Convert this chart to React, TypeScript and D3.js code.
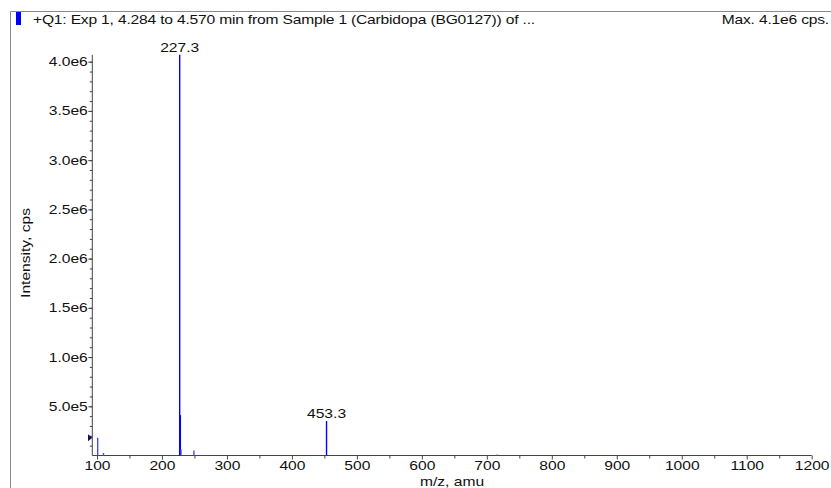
import { useEffect, useRef } from 'react';
import * as d3 from 'd3';

interface Peak {
  mz: number
  intensity: number
}

const peakMz = [101.1, 110.0, 136.0, 227.3, 228.3, 229.3, 249.2, 453.3, 716.0];
const peakIntensity = [1.8e5, 2.5e4, 5e3, 4.07e6, 4.1e5, 6e4, 5e4, 3.5e5, 1e4];
const labelledPeaks = ['227.3', '453.3'];

const xTicks = [100, 200, 300, 400, 500, 600, 700, 800, 900, 1000, 1100, 1200];
const yTicks = [5e5, 1e6, 1.5e6, 2e6, 2.5e6, 3e6, 3.5e6, 4e6];
const yTickLabels = ['5.0e5', '1.0e6', '1.5e6', '2.0e6', '2.5e6', '3.0e6', '3.5e6', '4.0e6'];

const title = '+Q1: Exp 1, 4.284 to 4.570 min from Sample 1 (Carbidopa (BG0127)) of ...';
const maxLabel = 'Max. 4.1e6 cps.';
const thresholdMarker = 1.8e5;

const SpectrumChart = (): JSX.Element => {
  const svgRef = useRef<SVGSVGElement>(null);

  useEffect(() => {
    const width = 831;
    const height = 488;
    const font = '"Liberation Sans", Arial, sans-serif';
    const fontSize = 12.5;
    // the software's font is drawn wide, so stretch text horizontally
    const stretch = 1.25;

    const data: Peak[] = peakMz.map((mz, i) => ({ mz, intensity: peakIntensity[i] }));

    const x = d3.scaleLinear().domain([92.8, 1200]).range([92.3, 811.7]);
    const y = d3.scaleLinear().domain([0, 4.07e6]).range([455.5, 54.8]);

    const svg = d3.select(svgRef.current)
      .attr('width', width)
      .attr('height', height)
      .style('font-family', font)
      .style('font-size', `${fontSize}px`);

    const addText = (tx: number, ty: number, str: string, anchor = 'start', rotate = 0) => svg.append('text')
      .attr('transform', `translate(${tx},${ty}) rotate(${rotate}) scale(${stretch},1)`)
      .attr('text-anchor', anchor)
      .attr('fill', '#111')
      .text(str);

    // frame
    svg.append('path')
      .attr('d', `M10.5,${height} V11.5 H${width}`)
      .attr('fill', 'none')
      .attr('stroke', '#8a8a8a');

    svg.append('rect')
      .attr('x', 16).attr('y', 12)
      .attr('width', 5).attr('height', 13)
      .attr('fill', '#0000ff');

    addText(33, 23.5, title).attr('letter-spacing', -0.15);
    addText(829, 23.5, maxLabel, 'end').attr('letter-spacing', -0.15);

    // y axis: minor ticks every 1e5, then labelled majors
    const yMinor = svg.append('g').attr('transform', 'translate(92.3,0)');
    yMinor.call(d3.axisLeft(y).tickValues(d3.range(1e5, 4.05e6, 1e5)).tickSize(2.5).tickFormat(() => ''));
    yMinor.select('.domain').remove();
    const yMajor = svg.append('g').attr('transform', 'translate(92.3,0)');
    yMajor.call(d3.axisLeft(y).tickValues(yTicks).tickSize(4).tickSizeOuter(0)
      .tickFormat((_d, i) => yTickLabels[i]));
    yMajor.select('.domain').remove();
    yMajor.selectAll('.tick text')
      .attr('font-size', fontSize)
      .attr('font-family', font)
      .attr('fill', '#111')
      .attr('x', -4.5 / stretch)
      .attr('transform', `scale(${stretch},1)`);
    svg.append('line')
      .attr('x1', 92.3).attr('x2', 92.3)
      .attr('y1', y(4.07e6)).attr('y2', y(0))
      .attr('stroke', '#444');

    // x axis
    const xMinor = svg.append('g').attr('transform', `translate(0,${y(0)})`);
    xMinor.call(d3.axisBottom(x).tickValues(d3.range(150, 1200, 100)).tickSize(3).tickFormat(() => ''));
    xMinor.select('.domain').remove();
    const xAxis = svg.append('g').attr('transform', `translate(0,${y(0)})`);
    xAxis.call(d3.axisBottom(x).tickValues(xTicks).tickSize(4).tickSizeOuter(0).tickFormat(d3.format('d')));
    xAxis.select('.domain').remove();
    xAxis.selectAll('.tick text')
      .attr('font-size', fontSize)
      .attr('font-family', font)
      .attr('fill', '#111')
      .attr('dy', 0)
      .attr('y', 14.5)
      .attr('transform', `scale(${stretch},1)`);
    svg.append('line')
      .attr('x1', 92.3).attr('x2', 811.7)
      .attr('y1', y(0)).attr('y2', y(0))
      .attr('stroke', '#444');
    svg.selectAll('.tick line').attr('stroke', '#444');

    // axis titles
    addText((x.range()[0] + x.range()[1]) / 2, 486, 'm/z, amu', 'middle');
    addText(29.5, 253, 'Intensity, cps', 'middle', -90);

    // threshold marker
    const my = y(thresholdMarker);
    svg.append('path')
      .attr('d', `M88,${my - 3.5} L92.3,${my} L88,${my + 3.5} Z`)
      .attr('fill', '#101060');

    // peaks
    svg.selectAll('line.peak')
      .data(data)
      .enter()
      .append('line')
      .attr('class', 'peak')
      .attr('x1', d => x(d.mz))
      .attr('x2', d => x(d.mz))
      .attr('y1', y(0))
      .attr('y2', d => y(d.intensity))
      .attr('stroke', d => (d.intensity > 3e5 ? '#0000ff' : '#4a4aff'))
      .attr('stroke-width', 1.4);

    data.filter(d => labelledPeaks.includes(d.mz.toFixed(1)))
      .forEach(d => addText(x(d.mz), y(d.intensity) - 3, d.mz.toFixed(1), 'middle'));

    return () => {
      d3.select(svgRef.current).selectAll('*').remove();
    };
  }, []);

  return (
    <svg ref={svgRef} style={{ position: 'absolute', left: 0, top: 0, display: 'block' }}></svg>
  );
};

export default function App(): JSX.Element {
  return <SpectrumChart />;
}
